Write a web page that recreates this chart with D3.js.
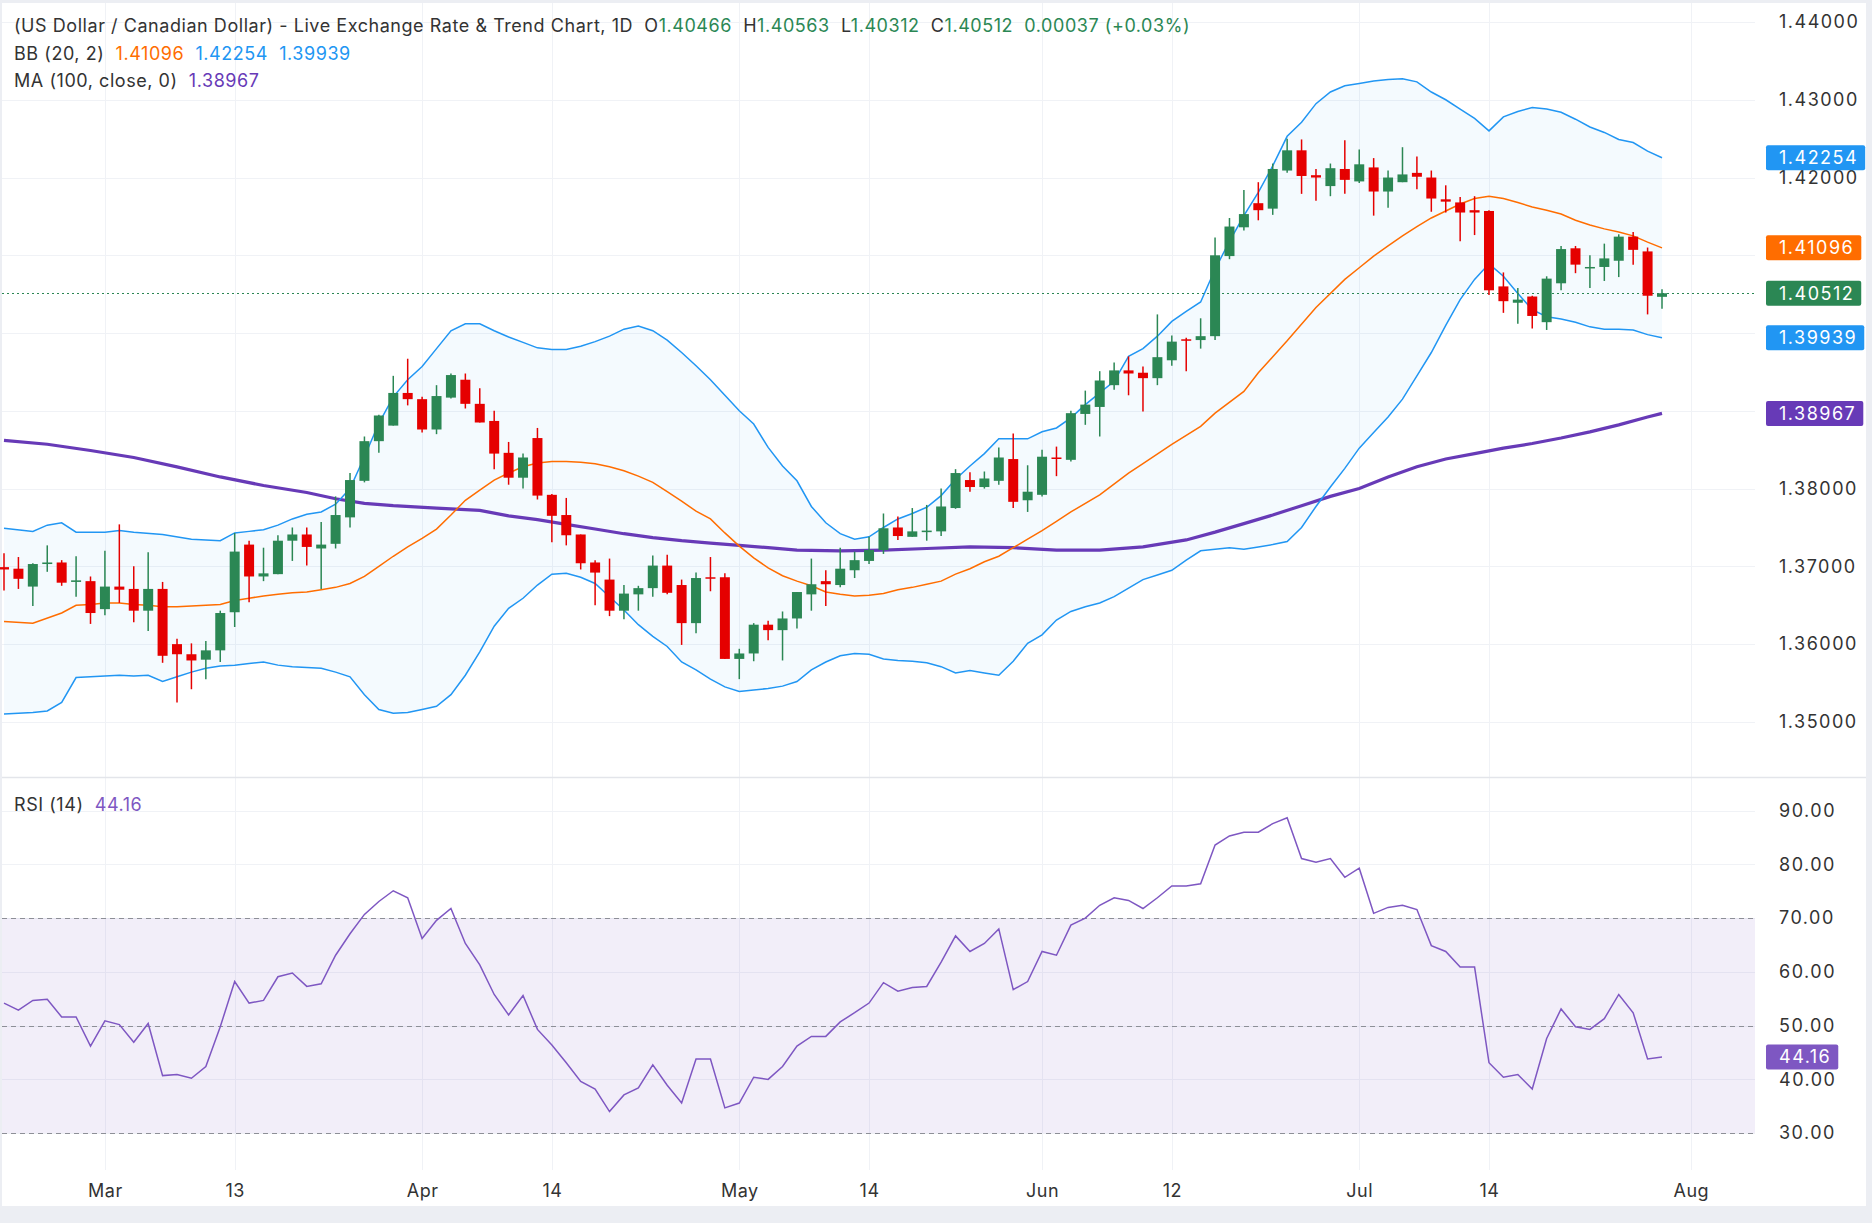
<!DOCTYPE html>
<html>
<head>
<meta charset="utf-8">
<script src="https://cdn.jsdelivr.net/npm/d3@7"></script>
<style>
  html, body { margin: 0; padding: 0; background: #eceef3; }
  svg { display: block; font-family: Inter, "Noto Sans", sans-serif; }
</style>
</head>
<body>
<svg id="chart" width="1872" height="1223"></svg>
<script>
///////// data //////////

// daily candles, index 0 = first visible bar
const opens = [1.3699,1.3697,1.3674,1.3703,1.3705,1.3680,1.3681,1.3645,1.3674,1.3671,1.3643,1.3671,1.3600,1.3587,1.3580,1.3592,1.3641,1.3728,1.3687,1.3690,
  1.3733,1.3741,1.3723,1.3729,1.3763,1.3810,1.3861,1.3881,1.3923,1.3915,1.3876,1.3917,1.3940,1.3909,1.3887,1.3846,1.3814,1.3865,1.3792,1.3766,
  1.3741,1.3705,1.3683,1.3643,1.3664,1.3672,1.3701,1.3676,1.3627,1.3686,1.3686,1.3581,1.3588,1.3625,1.3618,1.3633,1.3664,1.3681,1.3676,1.3695,
  1.3707,1.3721,1.3750,1.3738,1.3744,1.3745,1.3775,1.3811,1.3802,1.3810,1.3838,1.3785,1.3792,1.3840,1.3837,1.3896,1.3905,1.3933,1.3952,1.3949,
  1.3942,1.3965,1.3992,1.3991,1.3996,1.4099,1.4136,1.4167,1.4160,1.4209,1.4235,1.4203,1.4189,1.4211,1.4195,1.4213,1.4182,1.4194,1.4206,1.4200,
  1.4172,1.4168,1.4158,1.4157,1.4060,1.4039,1.4047,1.4014,1.4064,1.4109,1.4084,1.4085,1.4093,1.4124,1.4105,1.40466];
const highs = [1.3717,1.3712,1.3704,1.3727,1.3708,1.3713,1.3687,1.3720,1.3754,1.3700,1.3718,1.3680,1.3607,1.3601,1.3604,1.3643,1.3743,1.3733,1.3724,1.3740,
  1.3750,1.3750,1.3757,1.3790,1.3820,1.3867,1.3895,1.3945,1.3967,1.3918,1.3933,1.3948,1.3948,1.3929,1.3900,1.3860,1.3845,1.3878,1.3793,1.3788,
  1.3741,1.3708,1.3710,1.3676,1.3675,1.3714,1.3715,1.3683,1.3692,1.3712,1.3691,1.3594,1.3627,1.3630,1.3642,1.3667,1.3710,1.3695,1.3724,1.3719,
  1.3738,1.3768,1.3764,1.3775,1.3779,1.3800,1.3825,1.3821,1.3822,1.3853,1.3871,1.3830,1.3850,1.3854,1.3900,1.3926,1.3951,1.3962,1.3970,1.3957,
  1.4024,1.3997,1.3994,1.4019,1.4123,1.4148,1.4184,1.4194,1.4218,1.4250,1.4249,1.4211,1.4218,1.4248,1.4236,1.4225,1.4209,1.4239,1.4227,1.4209,
  1.4190,1.4175,1.4176,1.4158,1.4078,1.4058,1.4048,1.4073,1.4112,1.4112,1.4100,1.4115,1.4127,1.4130,1.4110,1.40563];
const lows = [1.3669,1.3671,1.3649,1.3693,1.3675,1.3661,1.3626,1.3637,1.3653,1.3628,1.3617,1.3576,1.3525,1.3542,1.3555,1.3577,1.3622,1.3654,1.3681,1.3690,
  1.3707,1.3701,1.3671,1.3723,1.3750,1.3808,1.3846,1.3881,1.3907,1.3872,1.3870,1.3916,1.3903,1.3885,1.3825,1.3805,1.3800,1.3786,1.3731,1.3727,
  1.3696,1.3650,1.3636,1.3632,1.3643,1.3661,1.3664,1.3599,1.3614,1.3668,1.3581,1.3555,1.3578,1.3605,1.3579,1.3620,1.3643,1.3649,1.3673,1.3685,
  1.3703,1.3716,1.3734,1.3738,1.3733,1.3739,1.3774,1.3796,1.3800,1.3805,1.3775,1.3770,1.3790,1.3816,1.3835,1.3882,1.3867,1.3927,1.3920,1.3899,
  1.3933,1.3958,1.3951,1.3980,1.3991,1.4095,1.4132,1.4145,1.4152,1.4206,1.4179,1.4170,1.4176,1.4179,1.4193,1.4151,1.4161,1.4194,1.4185,1.4156,
  1.4155,1.4118,1.4126,1.4049,1.4026,1.4012,1.4006,1.4004,1.4055,1.4077,1.4058,1.4067,1.4072,1.4088,1.4024,1.40312];
const closes = [1.3696,1.3684,1.3703,1.3705,1.3679,1.3682,1.3640,1.3674,1.3670,1.3643,1.3671,1.3585,1.3587,1.3579,1.3592,1.3640,1.3719,1.3687,1.3691,1.3733,
  1.3741,1.3725,1.3728,1.3766,1.3811,1.3861,1.3894,1.3923,1.3915,1.3876,1.3919,1.3946,1.3909,1.3885,1.3845,1.3814,1.3840,1.3791,1.3765,1.3740,
  1.3704,1.3692,1.3643,1.3665,1.3672,1.3701,1.3666,1.3627,1.3685,1.3685,1.3581,1.3588,1.3625,1.3618,1.3633,1.3667,1.3677,1.3677,1.3697,1.3708,
  1.3721,1.3749,1.3739,1.3745,1.3746,1.3777,1.3820,1.3802,1.3813,1.3840,1.3783,1.3796,1.3841,1.3839,1.3897,1.3908,1.3939,1.3952,1.3948,1.3942,
  1.3969,1.3989,1.3991,1.3996,1.4100,1.4137,1.4153,1.4158,1.4211,1.4235,1.4202,1.4200,1.4212,1.4197,1.4217,1.4182,1.4200,1.4204,1.4201,1.4173,
  1.4169,1.4155,1.4155,1.4055,1.4041,1.4043,1.4022,1.4070,1.4108,1.4088,1.4085,1.4096,1.4124,1.4107,1.4048,1.40512];

// Bollinger bands (20, 2) and MA(100) as [bar index, value]
const bbUpper = [[0,1.3749],[2,1.3745],[3,1.3753],[4,1.3756],[5,1.3744],[7,1.3744],[8,1.3746],[9,1.3744],[11,1.3741],[13,1.3735],[15,1.3733],[16,1.3743],
  [17,1.3745],[18,1.3747],[19,1.3753],[20,1.3761],[21,1.3767],[22,1.3770],[23,1.3780],[24,1.3800],[25,1.3841],[26,1.3884],[27,1.3918],[28,1.3940],
  [29,1.3957],[30,1.3980],[31,1.4003],[32,1.4012],[33,1.4012],[34,1.4003],[35,1.3995],[36,1.3988],[37,1.3981],[38,1.3979],[39,1.3979],[40,1.3983],
  [41,1.3989],[42,1.3996],[43,1.4005],[44,1.4009],[45,1.4003],[46,1.3991],[47,1.3975],[48,1.3958],[49,1.3940],[50,1.3920],[51,1.3900],[52,1.3883],
  [53,1.3853],[54,1.3829],[55,1.3810],[56,1.3777],[57,1.3756],[58,1.3742],[59,1.3735],[60,1.3738],[61,1.3750],[62,1.3761],[63,1.3768],[64,1.3776],
  [65,1.3791],[66,1.3812],[67,1.3829],[68,1.3845],[69,1.3864],[70,1.3864],[71,1.3864],[72,1.3873],[73,1.3878],[74,1.3891],[75,1.3908],[76,1.3923],
  [77,1.3938],[78,1.3970],[79,1.3980],[80,1.3996],[81,1.4015],[82,1.4028],[83,1.4040],[84,1.4082],[85,1.4118],[86,1.4151],[87,1.4181],[88,1.4215],
  [89,1.4253],[90,1.4271],[91,1.4295],[92,1.4310],[93,1.4318],[94,1.4321],[95,1.4324],[96,1.4326],[97,1.4327],[98,1.4323],[99,1.4310],[100,1.4300],
  [101,1.4288],[102,1.4276],[103,1.4260],[104,1.4278],[105,1.4285],[106,1.4290],[107,1.4288],[108,1.4284],[109,1.4275],[110,1.4265],[111,1.4258],
  [112,1.4249],[113,1.4245],[114,1.4234],[115,1.42254]];
const bbBasis = [[0,1.3629],[2,1.3627],[4,1.3640],[5,1.3650],[6,1.3651],[7,1.3653],[8,1.3653],[9,1.3651],[10,1.3650],[11,1.3648],[12,1.3648],[13,1.3649],
  [14,1.3650],[15,1.3651],[16,1.3656],[17,1.3659],[18,1.3662],[19,1.3664],[20,1.3666],[21,1.3667],[22,1.3670],[23,1.3673],[24,1.3678],[25,1.3687],
  [26,1.3700],[27,1.3713],[28,1.3725],[29,1.3736],[30,1.3748],[31,1.3766],[32,1.3785],[33,1.3798],[34,1.3811],[35,1.3820],[36,1.3828],[37,1.3833],
  [38,1.3835],[39,1.3835],[40,1.3834],[41,1.3832],[42,1.3828],[43,1.3823],[44,1.3816],[45,1.3808],[46,1.3796],[47,1.3784],[48,1.3771],[49,1.3761],
  [50,1.3743],[51,1.3726],[52,1.3711],[53,1.3698],[54,1.3688],[55,1.3681],[56,1.3675],[57,1.3667],[58,1.3664],[59,1.3662],[60,1.3663],[61,1.3665],
  [62,1.3670],[63,1.3673],[64,1.3677],[65,1.3681],[66,1.3690],[67,1.3697],[68,1.3706],[69,1.3713],[70,1.3724],[71,1.3735],[72,1.3746],[73,1.3758],
  [74,1.3770],[76,1.3792],[78,1.3820],[79,1.3832],[81,1.3857],[83,1.3880],[84,1.3897],[86,1.3925],[87,1.3949],[89,1.3990],[91,1.4033],[93,1.4069],
  [94,1.4084],[95,1.4099],[96,1.4112],[97,1.4125],[98,1.4137],[99,1.4148],[100,1.4157],[101,1.4166],[102,1.4173],[103,1.4176],[104,1.4173],
  [105,1.4168],[106,1.4162],[107,1.4158],[108,1.4153],[109,1.4145],[110,1.4139],[111,1.4134],[112,1.4130],[113,1.4125],[114,1.4117],[115,1.41096]];
const bbLower = [[0,1.3510],[2,1.3512],[3,1.3514],[4,1.3525],[5,1.3557],[6,1.3558],[7,1.3559],[8,1.3560],[9,1.3559],[10,1.3560],[11,1.3552],[12,1.3558],
  [13,1.3564],[14,1.3569],[15,1.3572],[16,1.3573],[17,1.3575],[18,1.3577],[19,1.3573],[20,1.3571],[21,1.3570],[22,1.3569],[23,1.3564],[24,1.3558],
  [25,1.3535],[26,1.3516],[27,1.3511],[28,1.3512],[29,1.3516],[30,1.3520],[31,1.3535],[32,1.3560],[33,1.3590],[34,1.3623],[35,1.3646],[36,1.3659],
  [37,1.3676],[38,1.3690],[39,1.3691],[40,1.3686],[41,1.3678],[42,1.3661],[43,1.3644],[44,1.3625],[45,1.3610],[46,1.3597],[47,1.3577],[48,1.3567],
  [49,1.3555],[50,1.3545],[51,1.3539],[52,1.3541],[53,1.3543],[54,1.3546],[55,1.3552],[56,1.3567],[57,1.3577],[58,1.3585],[59,1.3588],[60,1.3587],
  [61,1.3581],[62,1.3579],[63,1.3578],[64,1.3576],[65,1.3571],[66,1.3563],[67,1.3566],[68,1.3563],[69,1.3560],[70,1.3578],[71,1.3601],[72,1.3612],
  [73,1.3631],[74,1.3642],[75,1.3648],[76,1.3653],[77,1.3661],[78,1.3672],[79,1.3683],[80,1.3689],[81,1.3695],[82,1.3708],[83,1.3720],[84,1.3722],
  [85,1.3724],[86,1.3722],[87,1.3725],[88,1.3728],[89,1.3732],[90,1.3750],[91,1.3777],[92,1.3802],[93,1.3826],[94,1.3852],[95,1.3872],[96,1.3892],
  [97,1.3915],[98,1.3945],[99,1.3975],[100,1.4010],[101,1.4043],[102,1.4069],[103,1.4089],[104,1.4073],[105,1.4051],[106,1.4030],[107,1.4021],
  [108,1.4018],[109,1.4014],[110,1.4008],[111,1.4005],[112,1.4005],[113,1.4004],[114,1.3998],[115,1.39939]];
const ma100 = [[0,1.3862],[3,1.3857],[6,1.3849],[9,1.3840],[12,1.3828],[15,1.3815],[18,1.3804],[21,1.3795],[23,1.3787],[25,1.3781],[27,1.3778],
  [30,1.3775],[33,1.3772],[35,1.3765],[37,1.3760],[39,1.3754],[41,1.3748],[43,1.3742],[45,1.3737],[47,1.3733],[49,1.3730],[51,1.3727],[53,1.3724],
  [55,1.3721],[58,1.3720],[61,1.3721],[64,1.3723],[67,1.3725],[70,1.3724],[73,1.3721],[76,1.3721],[79,1.3725],[82,1.3734],[84,1.3744],[86,1.3755],
  [88,1.3766],[90,1.3778],[92,1.3790],[94,1.3800],[96,1.3815],[98,1.3828],[100,1.3838],[102,1.3845],[104,1.3852],[106,1.3858],[108,1.3865],
  [110,1.3873],[112,1.3882],[114,1.3892],[115,1.38967]];

// RSI(14), one value per bar
const rsi = [54.2,52.9,54.7,54.9,51.6,51.6,46.2,50.9,50.2,46.9,50.4,40.7,40.9,40.2,42.4,49.8,58.2,54.2,54.7,59.1,
  59.8,57.3,57.8,63.1,67.1,70.7,73.1,75.1,73.8,66.2,69.6,71.8,65.3,61.3,55.8,52.0,55.6,49.3,46.4,43.1,
  39.6,38.2,34.0,37.1,38.4,42.7,38.9,35.6,43.8,43.8,34.7,35.6,40.4,40.0,42.4,46.2,48.0,48.0,50.7,52.4,
  54.2,58.0,56.4,57.1,57.3,61.8,66.7,63.8,65.3,68.0,56.7,58.2,63.8,63.1,68.7,70.0,72.4,73.8,73.3,71.8,
  73.8,76.0,76.0,76.4,83.6,85.3,86.0,86.0,87.6,88.7,81.1,80.4,81.1,77.6,79.3,70.9,72.0,72.4,71.6,64.9,
  63.8,60.9,60.9,43.1,40.4,40.9,38.2,47.6,53.1,49.8,49.3,51.3,55.8,52.4,43.8,44.16];

// axes
const priceTicks = [1.35,1.36,1.37,1.38,1.39,1.40,1.41,1.42,1.43,1.44];
const rsiTicks = [30,40,50,60,70,80,90];
const rsiLevels = [70,50,30];
const dateTickBars = [7,16,29,38,51,60,72,81,94,103,117];
const dateTickLabels = ["Mar","13","Apr","14","May","14","Jun","12","Jul","14","Aug"];

const lastBar = {o:"1.40466", h:"1.40563", l:"1.40312", c:"1.40512", chg:"0.00037 (+0.03%)"};
const bbLegend = {basis:"1.41096", upper:"1.42254", lower:"1.39939"};
const maLegend = "1.38967";
const rsiLegend = "44.16";

////////////////////// drawing //////////////////////
const GREEN = "#2b8754", RED = "#e50000", BLUE = "#2196f3", ORANGE = "#ff6d00",
      PURPLE = "#673ab7", RSI_PURPLE = "#7e57c2", TXT = "#333333", GRID = "#f0f2f6";

const plotLeft = 2, plotRight = 1755;
const mainTop = 3, mainBottom = 777, rsiBottom = 1170;

const svg = d3.select("#chart");
svg.append("rect").attr("x", 2).attr("y", 3).attr("width", 1864).attr("height", 1203).attr("fill", "#fff");

const x = d3.scaleLinear().domain([0, 115]).range([4, 1662]);
const y = d3.scaleLinear().domain([1.35, 1.44]).range([721.9, 22]);
const yr = d3.scaleLinear().domain([30, 90]).range([1133.1, 810.7]);

// grid
const grid = svg.append("g");
grid.selectAll(".vg").data(dateTickBars).enter().append("line")
  .attr("x1", d => Math.round(x(d)) + 0.5).attr("x2", d => Math.round(x(d)) + 0.5)
  .attr("y1", mainTop).attr("y2", rsiBottom).attr("stroke", GRID);
grid.selectAll(".hg").data(priceTicks).enter().append("line")
  .attr("x1", plotLeft).attr("x2", plotRight)
  .attr("y1", d => Math.round(y(d)) + 0.5).attr("y2", d => Math.round(y(d)) + 0.5).attr("stroke", GRID);
grid.selectAll(".rg").data(rsiTicks).enter().append("line")
  .attr("x1", plotLeft).attr("x2", plotRight)
  .attr("y1", d => Math.round(yr(d)) + 0.5).attr("y2", d => Math.round(yr(d)) + 0.5).attr("stroke", GRID);

// pane separator
svg.append("line").attr("x1", 2).attr("x2", 1866).attr("y1", mainBottom + 0.5).attr("y2", mainBottom + 0.5)
  .attr("stroke", "#e3e5ea").attr("stroke-width", 1.5);

// main pane
const main = svg.append("g");
const line = d3.line().x(d => x(d[0])).y(d => y(d[1]));

// band fill: upper forward, lower back
main.append("path")
  .attr("d", line(bbUpper.concat(bbLower.slice().reverse())) + "Z")
  .attr("fill", "rgba(33,150,243,0.05)");

main.append("path").attr("d", line(ma100)).attr("fill", "none").attr("stroke", PURPLE).attr("stroke-width", 3.2);
main.append("path").attr("d", line(bbBasis)).attr("fill", "none").attr("stroke", ORANGE).attr("stroke-width", 1.5);
main.append("path").attr("d", line(bbUpper)).attr("fill", "none").attr("stroke", BLUE).attr("stroke-width", 1.5);
main.append("path").attr("d", line(bbLower)).attr("fill", "none").attr("stroke", BLUE).attr("stroke-width", 1.5);

// last price line
main.append("line").attr("x1", plotLeft).attr("x2", plotRight)
  .attr("y1", Math.round(y(+lastBar.c)) + 0.5).attr("y2", Math.round(y(+lastBar.c)) + 0.5)
  .attr("stroke", GREEN).attr("stroke-dasharray", "2,3");

// candles
const bars = d3.range(opens.length);
const candle = main.selectAll(".candle").data(bars).enter().append("g");
candle.append("line")
  .attr("x1", i => x(i)).attr("x2", i => x(i))
  .attr("y1", i => y(highs[i])).attr("y2", i => y(lows[i]))
  .attr("stroke", i => closes[i] >= opens[i] ? GREEN : RED).attr("stroke-width", 1.5);
candle.append("rect")
  .attr("x", i => x(i) - 5).attr("width", 10)
  .attr("y", i => y(Math.max(opens[i], closes[i])))
  .attr("height", i => Math.max(1.5, Math.abs(y(opens[i]) - y(closes[i]))))
  .attr("fill", i => closes[i] >= opens[i] ? GREEN : RED);

// rsi pane
const rp = svg.append("g");
rp.append("rect").attr("x", plotLeft).attr("width", plotRight - plotLeft)
  .attr("y", yr(70)).attr("height", yr(30) - yr(70)).attr("fill", "rgba(126,87,194,0.1)");
rp.selectAll(".lvl").data(rsiLevels).enter().append("line")
  .attr("x1", plotLeft).attr("x2", plotRight)
  .attr("y1", d => Math.round(yr(d)) + 0.5).attr("y2", d => Math.round(yr(d)) + 0.5)
  .attr("stroke", "#8d8f97").attr("stroke-dasharray", "5,4");
rp.append("path")
  .attr("d", d3.line().x((d, i) => x(i)).y(d => yr(d))(rsi))
  .attr("fill", "none").attr("stroke", RSI_PURPLE).attr("stroke-width", 1.5);

// value tags shown on the right axis (they hide the tick labels right under them)
const tags = [
  {v: +bbLegend.upper, txt: bbLegend.upper, color: BLUE, s: y},
  {v: +bbLegend.basis, txt: bbLegend.basis, color: ORANGE, s: y},
  {v: +lastBar.c, txt: lastBar.c, color: GREEN, s: y},
  {v: +bbLegend.lower, txt: bbLegend.lower, color: BLUE, s: y},
  {v: +maLegend, txt: maLegend, color: PURPLE, s: y},
  {v: +rsiLegend, txt: rsiLegend, color: RSI_PURPLE, s: yr}
];
function hiddenByTag(py) {
  return tags.some(t => Math.abs(t.s(t.v) - py) < 14);
}

// right axis labels
const axisFont = 18, axisLS = 1.5, axisX = 1779;
const yAxis = svg.append("g").attr("transform", `translate(${axisX},0)`)
  .call(d3.axisRight(y).tickValues(priceTicks.filter(d => !hiddenByTag(y(d))))
    .tickSize(0).tickPadding(0).tickFormat(d3.format(".5f")));
const rAxis = svg.append("g").attr("transform", `translate(${axisX},0)`)
  .call(d3.axisRight(yr).tickValues(rsiTicks.filter(d => !hiddenByTag(yr(d))))
    .tickSize(0).tickPadding(0).tickFormat(d3.format(".2f")));
[yAxis, rAxis].forEach(a => {
  a.select(".domain").remove();
  a.selectAll("text").attr("font-size", axisFont).attr("font-family", "Inter, sans-serif")
    .attr("fill", TXT).attr("letter-spacing", axisLS);
});

// bottom axis labels
const xAxis = svg.append("g").attr("transform", "translate(0,1184)")
  .call(d3.axisBottom(x).tickValues(dateTickBars).tickSize(0).tickPadding(0)
    .tickFormat((d, i) => dateTickLabels[i]));
xAxis.select(".domain").remove();
xAxis.selectAll("text").attr("font-size", axisFont).attr("font-family", "Inter, sans-serif")
  .attr("fill", TXT).attr("letter-spacing", 0.5);

tags.forEach(t => {
  const g = svg.append("g");
  const cy = t.s(t.v);
  const tx = g.append("text").attr("x", axisX).attr("y", cy).attr("dy", "0.35em")
    .attr("font-size", axisFont).attr("letter-spacing", axisLS).attr("fill", "#fff").text(t.txt);
  const w = tx.node().getComputedTextLength();
  g.insert("rect", "text").attr("x", 1766).attr("y", cy - 12.5).attr("width", w + 20).attr("height", 25)
    .attr("rx", 2).attr("fill", t.color);
});

// legends
const legFont = 18;
function legendLine(yy, parts) {
  const t = svg.append("text").attr("x", 14).attr("y", yy).attr("dy", "0.35em")
    .attr("font-size", legFont).attr("letter-spacing", 0.55);
  parts.forEach(p => t.append("tspan").attr("fill", p[1]).text(p[0]));
}
legendLine(26, [
  ["(US Dollar / Canadian Dollar) - Live Exchange Rate & Trend Chart, 1D", TXT],
  ["  O", TXT], [lastBar.o, GREEN], ["  H", TXT], [lastBar.h, GREEN],
  ["  L", TXT], [lastBar.l, GREEN], ["  C", TXT], [lastBar.c, GREEN],
  ["  " + lastBar.chg, GREEN]
]);
legendLine(53.5, [["BB (20, 2)  ", TXT], [bbLegend.basis, ORANGE], ["  " + bbLegend.upper, BLUE], ["  " + bbLegend.lower, BLUE]]);
legendLine(81, [["MA (100, close, 0)  ", TXT], [maLegend, PURPLE]]);
legendLine(805, [["RSI (14)  ", TXT], [rsiLegend, RSI_PURPLE]]);
svg.selectAll("text").attr("xml:space", "preserve").style("white-space", "pre");
</script>
</body>
</html>
